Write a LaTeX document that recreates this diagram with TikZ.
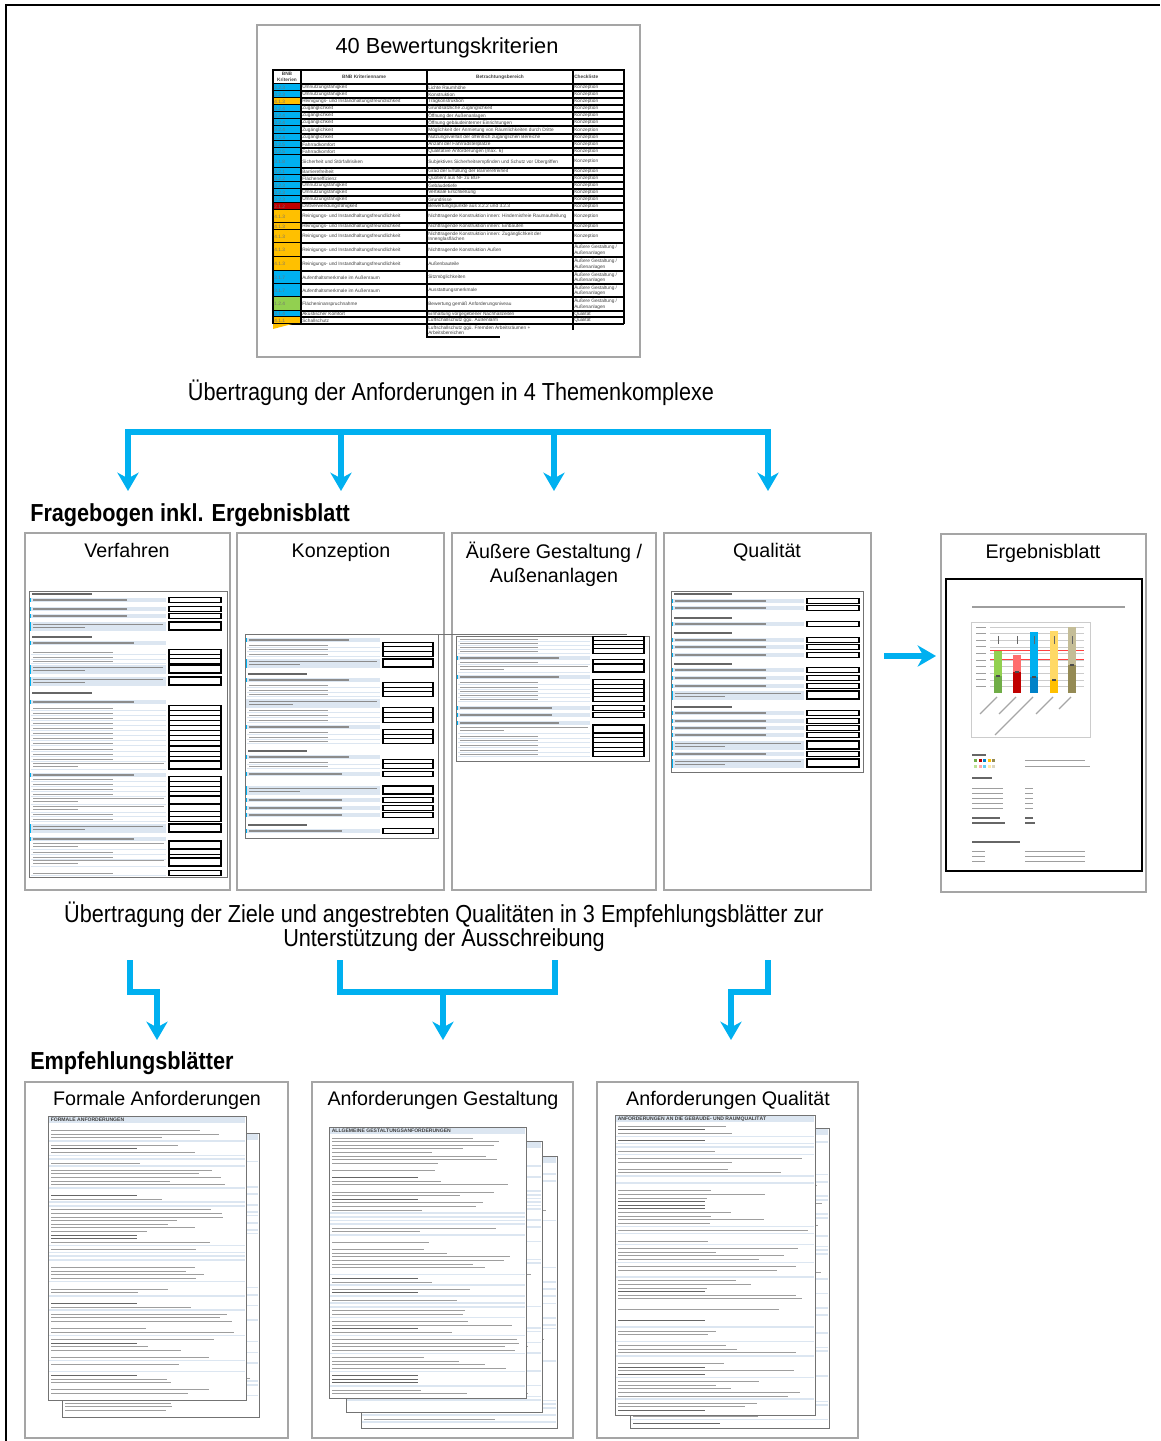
\documentclass[tikz,border=0pt]{standalone}
\usepackage{fontspec}
\setmainfont{Liberation Sans}
\newfontfamily\narrowfont[FakeStretch=0.88]{Liberation Sans}
\usetikzlibrary{arrows.meta}
\definecolor{flowblue}{RGB}{0,176,240}
\definecolor{bnbblue}{RGB}{0,176,240}
\definecolor{bnborange}{RGB}{255,192,0}
\definecolor{bnbred}{RGB}{192,0,0}
\definecolor{bnbgreen}{RGB}{146,208,80}
\definecolor{rowblue}{RGB}{220,230,241}
\definecolor{panelgray}{RGB}{165,165,165}
\definecolor{barGl}{RGB}{146,208,80}
\definecolor{barGd}{RGB}{112,173,71}
\definecolor{barRl}{RGB}{255,110,110}
\definecolor{barRd}{RGB}{192,0,0}
\definecolor{barBl}{RGB}{0,176,240}
\definecolor{barBd}{RGB}{0,130,200}
\definecolor{barYl}{RGB}{255,217,102}
\definecolor{barYd}{RGB}{255,192,0}
\definecolor{barOl}{RGB}{196,189,151}
\definecolor{barOd}{RGB}{148,138,84}

\newcommand{\reinig}{Reinigungs- und Instandhaltungsfreundlichkeit}
\newcommand{\innenglas}{Nichttragende Konstruktion innen: Zugänglichkeit der\\Innenglasflächen}
\newcommand{\agestalt}{Äußere Gestaltung /\\Außenanlagen}

\tikzset{
  panel/.style={draw=panelgray, line width=1pt},
  ttl/.style={font=\fontsize{14}{16}\selectfont, inner sep=0, anchor=base},
  captxt/.style={font=\narrowfont\fontsize{17.5}{17.2}\selectfont, align=center, inner sep=0},
  sechead/.style={font=\narrowfont\bfseries\fontsize{17.5}{20}\selectfont, anchor=west, inner sep=0},
  flow/.style={draw=flowblue, line width=4pt, -{Stealth[length=13pt,width=15pt,inset=4pt]}},
  flowline/.style={draw=flowblue, line width=4pt},
  tabline/.style={draw=black, line width=0.8pt},
  tabtxt/.style={font=\fontsize{3.4}{3.9}\selectfont, anchor=west, inner sep=0, align=left, text=black!75},
  tabhead/.style={font=\bfseries\fontsize{3.4}{3.9}\selectfont, inner sep=0, align=center, text=black!75},
  sheetline/.style={draw=black!55, line width=0.7pt},
  sheethead/.style={font=\bfseries\fontsize{3.6}{4}\selectfont, anchor=west, inner sep=0, text=black!75},
  headtxt/.style={fill=black!60},
  bartxt/.style={fill=black!45},
  linetxt/.style={fill=black!38},
  rowbar/.style={fill=rowblue},
  rowrule/.style={draw=rowblue, line width=0.5pt},
  ansbox/.style={draw=black, line width=0.8pt, fill=white},
  markblue/.style={fill=bnbblue},
  gridline/.style={draw=black!20, line width=0.2pt}
}

\newcommand{\formsheet}[5]{%
  \pgfmathsetmacro\xq{#1+0.45*(#3-#1)}%
  \pgfmathsetmacro\xr{#1+0.7*(#3-#1)}%
  \pgfmathsetmacro\xs{#1+0.4*(#3-#1)}%
  \pgfmathsetmacro\xt{#1+0.6*(#3-#1)}%
  \pgfmathsetmacro\xu{#1+0.75*(#3-#1)}%
  \pgfmathsetmacro\xv{#1+0.35*(#3-#1)}%
  \foreach \yy/\kk in {#5}{%
    \ifcase\kk\relax
      \fill[headtxt] (#1+3,\yy-0.7) rectangle (\xq,\yy+0.7);
    \or
      \fill[rowbar] (#1+1,\yy-2.4) rectangle (#3-3,\yy+2.4);
      \fill[bartxt] (#1+4,\yy-0.6) rectangle (\xr,\yy+0.6);
      \draw[ansbox] (#3,\yy-2.2) rectangle (#4,\yy+2.2);
    \or
      \fill[rowbar] (#1+1,\yy-4.5) rectangle (#3-3,\yy+4.5);
      \fill[bartxt] (#1+4,\yy-2.2) rectangle (#3-6,\yy-1);
      \fill[bartxt] (#1+4,\yy+1) rectangle (\xs,\yy+2.2);
      \draw[ansbox] (#3,\yy-4) rectangle (#4,\yy+4);
    \or
      \fill[linetxt] (#1+4,\yy-0.5) rectangle (\xt,\yy+0.5);
      \draw[rowrule] (#1+2,\yy+2.3) -- (#3-3,\yy+2.3);
      \draw[ansbox] (#3,\yy-2.2) rectangle (#4,\yy+2.2);
    \or
      \fill[rowbar] (#1+1,\yy-2.4) rectangle (#3-3,\yy+2.4);
      \fill[bartxt] (#1+4,\yy-0.6) rectangle (\xu,\yy+0.6);
    \or
      \fill[linetxt] (#1+4,\yy-2.2) rectangle (#3-5,\yy-1.2);
      \fill[linetxt] (#1+4,\yy+1.2) rectangle (\xv,\yy+2.2);
      \draw[rowrule] (#1+2,\yy+4.3) -- (#3-3,\yy+4.3);
      \draw[ansbox] (#3,\yy-4) rectangle (#4,\yy+4);
    \or
      \fill[rowbar] (#1+1,\yy-4.5) rectangle (#3-3,\yy+4.5);
      \fill[bartxt] (#1+4,\yy-2.2) rectangle (#3-6,\yy-1);
      \fill[bartxt] (#1+4,\yy+1) rectangle (\xv,\yy+2.2);
    \fi
    \ifnum\kk=1\relax \fill[markblue] (#1+1,\yy-2.4) rectangle (#1+2,\yy+2.4);\fi
    \ifnum\kk=2\relax \fill[markblue] (#1+1,\yy-4.5) rectangle (#1+2,\yy+4.5);\fi
    \ifnum\kk=4\relax \fill[markblue] (#1+1,\yy-2.4) rectangle (#1+2,\yy+2.4);\fi
  }%
}

\newcommand{\textsheet}[6]{%
  \fill[white] (#1,#2) rectangle (#3,#4);
  \fill[rowblue] (#1+1,#2+1) rectangle (#3-1,#2+6.5);
  \node[sheethead] (#5) at (#1+2.5,#2+3.8) {#6};
  \pgfmathsetmacro\tya{#2+11}%
  \pgfmathsetmacro\tyb{#2+14.6}%
  \pgfmathsetmacro\tyc{#4-4}%
  \pgfmathsetmacro\xq{#1+0.45*(#3-#1)}%
  \foreach \yy in {\tya,\tyb,...,\tyc}{%
    \pgfmathsetmacro\lenx{#1+4+(#3-#1-10)*(0.45+0.55*rnd)}%
    \pgfmathtruncatemacro\kk{9*rnd}%
    \ifcase\kk\relax
      \fill[rowbar] (#1+1,\yy-1.2) rectangle (#3-1,\yy+0.4);
    \or
      \fill[rowbar] (#1+1,\yy-1.2) rectangle (#3-1,\yy+0.4);
    \or
    \or
      \fill[headtxt] (#1+3,\yy-0.5) rectangle (\xq,\yy+0.5);
    \else
      \fill[linetxt] (#1+3,\yy-0.4) rectangle (\lenx,\yy+0.4);
    \fi
  }%
  \draw[sheetline] (#1,#2) rectangle (#3,#4);
}

\begin{document}
\begin{tikzpicture}[x=0.025cm,y=-0.025cm]
\useasboundingbox (0,0) rectangle (1160,1441);
\pgfmathsetseed{11}
\draw[line width=1.5pt] (6,1441) -- (6,5) -- (1160,5);

\draw[panel] (257,25) rectangle (640,357);
\node[ttl, font=\fontsize{15.5}{18}\selectfont] (kriterien) at (447,53) {40 Bewertungskriterien};
\draw[tabline] (273,70) rectangle (624,84);
\node[tabhead] (hnr) at (287,77) {BNB\\Kriterien};
\node[tabhead] (hname) at (364,77) {BNB Kriterienname};
\node[tabhead] (hber) at (500,77) {Betrachtungsbereich};
\node[tabhead, anchor=west] (hchk) at (574,77) {Checkliste};
\foreach \ya/\yb/\cc/\nr/\nm/\br/\ck in {
 84/91/bnbblue/3.2.3/Umnutzungsfähigkeit/Lichte Raumhöhe/Konzeption,
 91/98/bnbblue/3.2.3/Umnutzungsfähigkeit/Konstruktion/Konzeption,
 98/105/bnborange/4.1.3/\reinig/Tragkonstruktion/Konzeption,
 105/112/bnbblue/3.2.4/Zugänglichkeit/Grundsätzliche Zugänglichkeit/Konzeption,
 112/119/bnbblue/3.2.4/Zugänglichkeit/Öffnung der Außenanlagen/Konzeption,
 119/126/bnbblue/3.2.4/Zugänglichkeit/Öffnung gebäudeinterner Einrichtungen/Konzeption,
 126/134/bnbblue/3.2.4/Zugänglichkeit/Möglichkeit der Anmietung von Räumlichkeiten durch Dritte/Konzeption,
 134/141/bnbblue/3.2.4/Zugänglichkeit/Nutzungsvielfalt der öffentlich zugänglichen Bereiche/Konzeption,
 141/148/bnbblue/3.2.5/Fahrradkomfort/Anzahl der Fahrradstellplätze/Konzeption,
 148/155/bnbblue/3.2.5/Fahrradkomfort/Qualitative Anforderungen (max. 6)/Konzeption,
 155/168/bnbblue/3.1.8/Sicherheit und Störfallrisiken/Subjektives Sicherheitsempfinden und Schutz vor Übergriffen/Konzeption,
 168/175/bnbblue/3.2.1/Barrierefreiheit/Grad der Erfüllung der Barrierefreiheit/Konzeption,
 175/182/bnbblue/3.2.2/Flächeneffizienz/Quotient aus NF zu BGF/Konzeption,
 182/189/bnbblue/3.2.3/Umnutzungsfähigkeit/Gebäudetiefe/Konzeption,
 189/196/bnbblue/3.2.3/Umnutzungsfähigkeit/Vertikale Erschließung/Konzeption,
 196/203/bnbblue/3.2.3/Umnutzungsfähigkeit/Grundrisse/Konzeption,
 203/210/bnbred/2.1.2/Drittverwendungsfähigkeit/Bewertungspunkte aus 3.2.2 und 3.2.3/Konzeption,
 210/223/bnborange/4.1.3/\reinig/Nichttragende Konstruktion innen: Hindernisfreie Raumaufteilung/Konzeption,
 223/230/bnborange/4.1.3/\reinig/Nichttragende Konstruktion innen: Einbauten/Konzeption,
 230/243/bnborange/4.1.3/\reinig/\innenglas/Konzeption,
 243/257/bnborange/4.1.3/\reinig/Nichttragende Konstruktion Außen/\agestalt,
 257/271/bnborange/4.1.3/\reinig/Außenbauteile/\agestalt,
 271/284/bnbblue/3.1.7/Aufenthaltsmerkmale im Außenraum/Sitzmöglichkeiten/\agestalt,
 284/297/bnbblue/3.1.7/Aufenthaltsmerkmale im Außenraum/Ausstattungsmerkmale/\agestalt,
 297/311/bnbgreen/1.2.4/Flächeninanspruchnahme/Bewertung gemäß Anforderungsniveau/\agestalt,
 311/317/bnbblue/3.1.4/Akustischer Komfort/Einhaltung vorgegebener Nachhallzeiten/Qualität,
 317/324/bnborange/4.1.1/Schallschutz/Luftschallschutz ggü. Außenlärm/Qualität}{
  \fill[\cc] (273,\ya) rectangle (301,\yb);
  \node[tabtxt, text=black!55] (nr\ya) at (274,{(\ya+\yb)/2}) {\nr};
  \node[tabtxt] (nm\ya) at (302,{(\ya+\yb)/2}) {\nm};
  \node[tabtxt] (br\ya) at (428,{(\ya+\yb)/2}) {\br};
  \node[tabtxt] (ck\ya) at (574,{(\ya+\yb)/2}) {\ck};
  \draw[tabline] (273,\yb) -- (624,\yb);
}
\foreach \cx in {273,301,427,573,624} \draw[tabline] (\cx,70) -- (\cx,324);
\fill[bnborange] (273,324) -- (292,324) -- (273,329) -- cycle;
\node[tabtxt] (brlast) at (428,330.5) {Luftschallschutz ggü. Fremden Arbeitsräumen +\\Arbeitsbereichen};
\draw[tabline] (427,324) -- (427,337) -- (500,337);
\draw[tabline] (573,324) -- (573,330);

\node[captxt] (themen) at (451,393) {Übertragung der Anforderungen in 4 Themenkomplexe};
\coordinate (f1) at (128,432);
\coordinate (f2) at (341,432);
\coordinate (f3) at (554,432);
\coordinate (f4) at (768,432);
\coordinate (t1) at (128,491);
\coordinate (t2) at (341,491);
\coordinate (t3) at (554,491);
\coordinate (t4) at (768,491);
\draw[flow, {Stealth[length=13pt,width=15pt,inset=4pt]}-{Stealth[length=13pt,width=15pt,inset=4pt]}] (t1) -- (f1) -- (f4) -- (t4);
\draw[flow] (f2) -- (t2);
\draw[flow] (f3) -- (t3);

\node[sechead] (fragebogen) at (30,515) {Fragebogen inkl. Ergebnisblatt};

\draw[panel] (25,533) rectangle (230,890);
\node[ttl] (verfahren) at (127,557) {Verfahren};
\draw[sheetline] (29,591) rectangle (227,877);
\formsheet{29}{227}{169}{221}{594/0,600/1,609/1,616/1,626/2,637/0,643/4,652/3,657/3,661/3,669/2,681/2,693/0,702/4,708/3,713/3,718/3,723/3,728/3,733/3,738/3,743/3,749/3,754/3,759/3,765/5,775/4,779/3,784/3,789/3,794/3,800/5,808/5,814/3,819/3,828/2,839/4,845/5,852/3,857/3,862/5,873/3}

\draw[panel] (237,533) rectangle (444,890);
\node[ttl] (konzeption) at (341,557) {Konzeption};
\draw[sheetline] (245,634) rectangle (438,838);
\formsheet{245}{438}{383}{433}{640/4,645/3,649/3,654/3,663/2,674/0,680/4,685/3,690/3,694/3,703/6,710/3,715/3,720/3,727/4,732/3,737/3,741/3,751/0,757/4,762/3,766/3,774/1,790/2,800/1,808/1,815/1,825/0,831/1}

\draw[panel] (452,533) rectangle (656,890);
\node[ttl, align=center, font=\fontsize{14}{17}\selectfont, anchor=center] (aussen) at (554,564) {Äußere Gestaltung /\\Außenanlagen};
\draw[sheetline] (456,636) rectangle (649,761);
\formsheet{456}{649}{593}{644}{639/3,643/3,647/3,651/3,658/4,662/3,668/5,677/4,682/3,687/3,691/3,695/3,699/3,708/1,715/1,723/4,729/5,736/3,740/3,745/3,750/3,754/3}
\draw[sheetline] (272,634) -- (627,634);

\draw[panel] (664,533) rectangle (871,890);
\node[ttl] (qualitaet) at (767,557) {Qualität};
\draw[sheetline] (671,591) rectangle (863,772);
\formsheet{671}{863}{807}{859}{594/0,601/1,608/1,618/0,624/1,633/0,640/1,647/1,655/1,664/0,670/1,678/1,686/1,695/2,707/0,713/1,721/1,728/1,735/1,745/2,754/1,763/2}

\coordinate (e1) at (884,656);
\coordinate (e2) at (936,656);
\draw[flow] (e1) -- (e2);

\draw[panel] (941,534) rectangle (1146,892);
\node[ttl] (ergebnis) at (1043,558) {Ergebnisblatt};
\draw[line width=0.9pt] (946,579) rectangle (1142,871);
\fill[linetxt] (972,606.4) rectangle (1125,607.6);
\draw[draw=black!20, line width=0.4pt] (971,622) rectangle (1090,737);
\foreach \gy in {627,633.6,...,693}{
  \draw[gridline] (990,\gy) -- (1084,\gy);
  \fill[linetxt] (976,\gy-0.5) rectangle (986,\gy+0.5);
}
\draw[red!75, line width=0.5pt] (990,650) -- (1084,650);
\draw[red!75, line width=0.5pt] (990,659) -- (1084,659);
\foreach \bx/\bt/\bm/\bl/\bd/\bs in {998/651/676/barGl/barGd/17,1017/655/672/barRl/barRd/17,1034/632/677/barBl/barBd/38,1054/631/680/barYl/barYd/17,1072/627/665/barOl/barOd/12}{
  \fill[\bl] (\bx-4,\bt) rectangle (\bx+4,\bm);
  \fill[\bd] (\bx-4,\bm) rectangle (\bx+4,693);
  \fill[black!70] (\bx-2,\bm-0.6) rectangle (\bx+2,\bm+0.6);
  \fill[black!60] (\bx-0.5,636) rectangle (\bx+0.5,644);
  \draw[draw=black!35, line width=0.8pt] (\bx-1,697) -- ++(-\bs,\bs);
}
\fill[headtxt] (972,754.4) rectangle (986,755.6);
\foreach \i/\ca/\cb in {0/barGd/barGl,1/barRd/barRl,2/barBd/barBl,3/barYd/barYl,4/barOd/barOl}{
  \fill[\ca] (974+4.5*\i,758.5) rectangle (977+4.5*\i,761.5);
  \fill[\cb!60] (974+4.5*\i,764.5) rectangle (977+4.5*\i,767.5);
}
\fill[linetxt] (1025,759.6) rectangle (1085,760.4);
\fill[linetxt] (1025,765.6) rectangle (1090,766.4);
\fill[headtxt] (972,777.4) rectangle (992,778.6);
\foreach \gy in {788,793,798,803,808}{
  \fill[linetxt] (972,\gy-0.4) rectangle (1003,\gy+0.4);
  \fill[linetxt] (1025,\gy-0.4) rectangle (1033,\gy+0.4);
}
\fill[headtxt] (972,817.4) rectangle (1000,818.6);
\fill[headtxt] (1025,817.4) rectangle (1033,818.6);
\fill[headtxt] (972,822.4) rectangle (1005,823.6);
\fill[headtxt] (1025,822.4) rectangle (1035,823.6);
\fill[headtxt] (972,841.4) rectangle (1020,842.6);
\foreach \gy in {851,856,861}{
  \fill[linetxt] (972,\gy-0.4) rectangle (985,\gy+0.4);
  \fill[linetxt] (1025,\gy-0.4) rectangle (1085,\gy+0.4);
}

\node[captxt] (ziele) at (444,927) {Übertragung der Ziele und angestrebten Qualitäten in 3 Empfehlungsblätter zur\\Unterstützung der Ausschreibung};
\coordinate (g1) at (130,960);
\coordinate (g2) at (130,992);
\coordinate (g3) at (157,992);
\coordinate (g4) at (157,1040);
\coordinate (h1) at (340,960);
\coordinate (h2) at (555,960);
\coordinate (h3) at (443,992);
\coordinate (h4) at (443,1040);
\coordinate (k1) at (768,960);
\coordinate (k2) at (768,992);
\coordinate (k3) at (731,992);
\coordinate (k4) at (731,1040);
\draw[flow] (g1) -- (g2) -- (g3) -- (g4);
\draw[flowline] (h1) |- (h3) -| (h2);
\draw[flow] (h3) -- (h4);
\draw[flow] (k1) -- (k2) -- (k3) -- (k4);

\node[sechead] (empfehlung) at (30,1063) {Empfehlungsblätter};

\draw[panel] (25,1082) rectangle (288,1438);
\node[ttl] (formale) at (157,1105) {Formale Anforderungen};
\textsheet{62}{1133}{259}{1417}{formB}{}
\textsheet{48}{1116}{246}{1400}{formA}{FORMALE ANFORDERUNGEN}

\draw[panel] (312,1082) rectangle (573,1438);
\node[ttl] (gestaltung) at (443,1105) {Anforderungen Gestaltung};
\textsheet{361}{1156}{557}{1428}{gestC}{}
\textsheet{346}{1141}{542}{1412}{gestB}{}
\textsheet{329}{1127}{526}{1398}{gestA}{ALLGEMEINE GESTALTUNGSANFORDERUNGEN}

\draw[panel] (597,1082) rectangle (858,1438);
\node[ttl] (anfqual) at (728,1105) {Anforderungen Qualität};
\textsheet{630}{1128}{829}{1428}{qualB}{}
\textsheet{615}{1115}{815}{1415}{qualA}{ANFORDERUNGEN AN DIE GEBÄUDE- UND RAUMQUALITÄT}
\end{tikzpicture}
\end{document}
